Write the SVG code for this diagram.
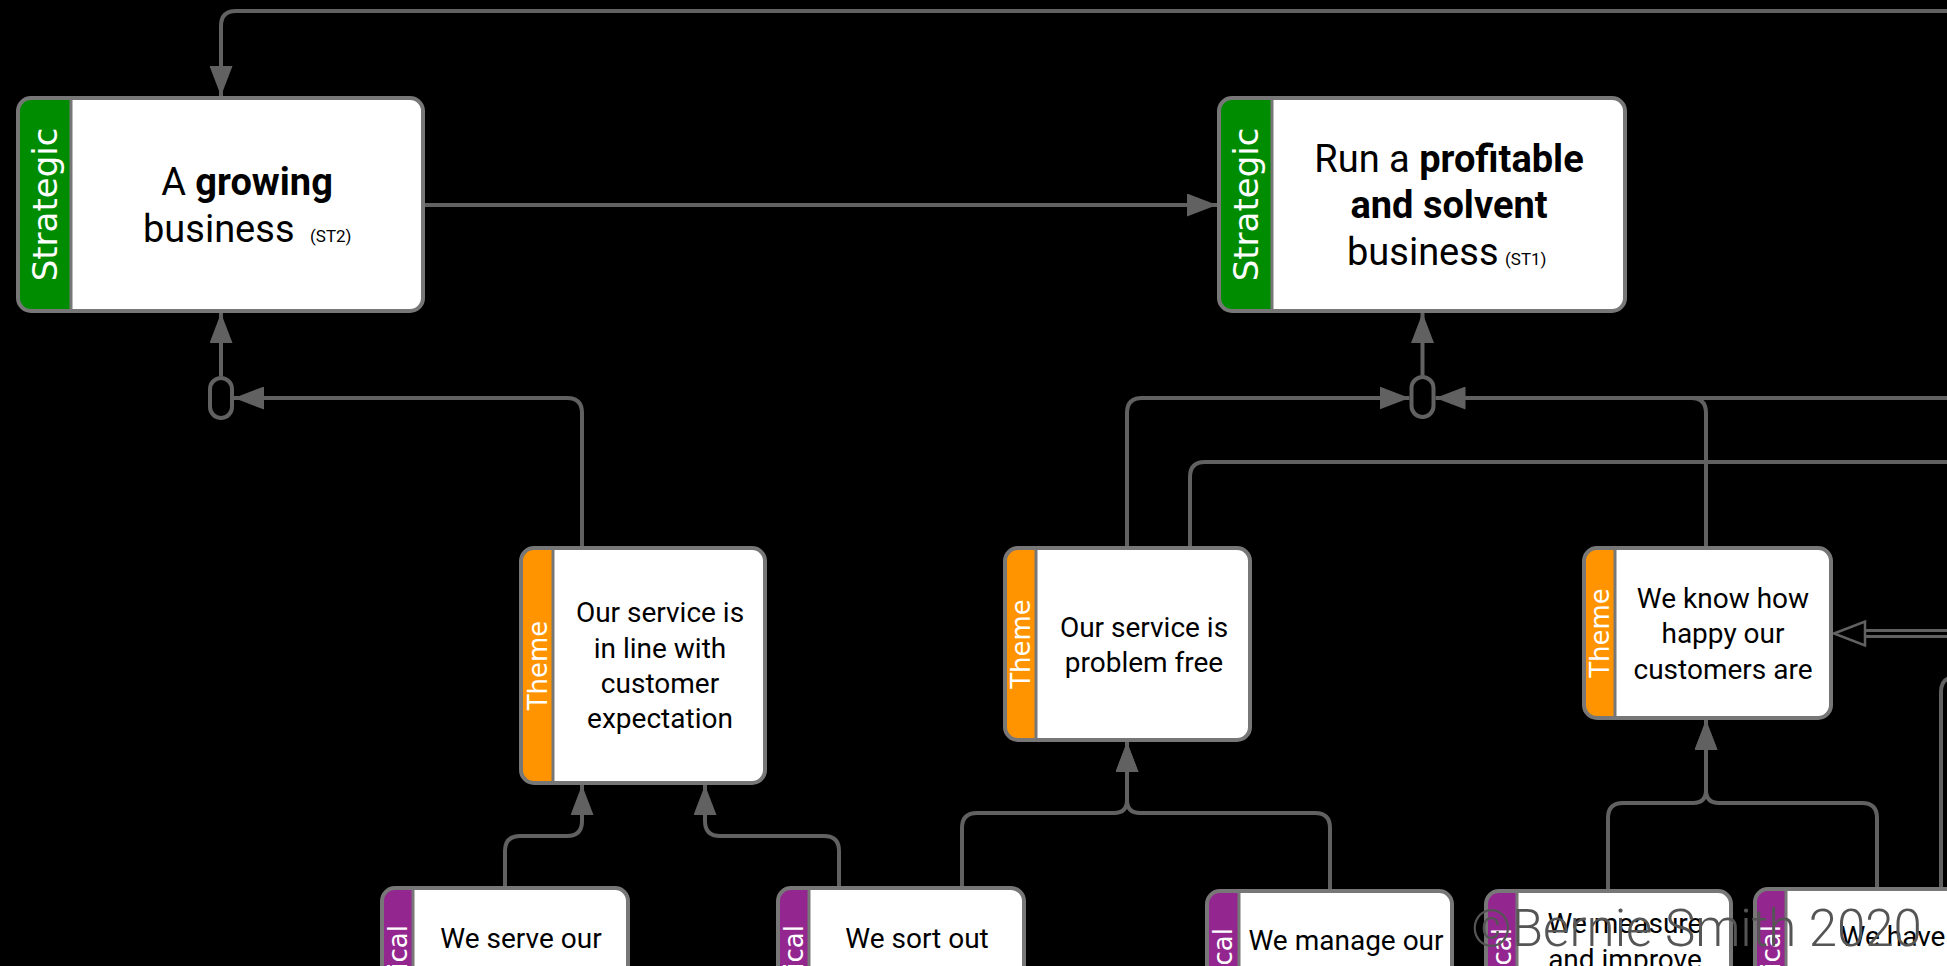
<svg xmlns="http://www.w3.org/2000/svg" width="1947" height="966" viewBox="0 0 1947 966">
  <style>
    .conn { fill: none; stroke: #616161; stroke-width: 4; }
    .arr { marker-end: url(#ah); }
    .bg { fill: #ffffff; }
    .frame { fill: none; stroke: #777777; stroke-width: 4; }
    .div { stroke: #777777; stroke-width: 3; }
    .st { fill: #008c00; }
    .th { fill: #ff9400; }
    .tc { fill: #93278f; }
    .lbl { font-family: 'DejaVu Sans', 'Liberation Sans', sans-serif; fill: #ffffff; }
    .big { font-family: Roboto, 'Liberation Sans', sans-serif; font-size: 38px; fill: #000; }
    .t { font-family: Roboto, 'Liberation Sans', sans-serif; font-size: 28px; fill: #000; text-anchor: middle; }
    .ref { font-family: Roboto, 'Liberation Sans', sans-serif; font-size: 17px; fill: #000; }
    .b { font-weight: 700; }
    .junction { fill: #000; stroke: #616161; stroke-width: 4; }
  </style>
  <defs>
    <marker id="ah" viewBox="0 0 30 23" refX="30" refY="11.5" markerWidth="30" markerHeight="23" markerUnits="userSpaceOnUse" orient="auto">
      <path d="M0,0 L30,11.5 L0,23 Z" fill="#616161"/>
    </marker>
  </defs>

  <rect x="0" y="0" width="1947" height="966" fill="#000"/>

  <!-- connectors -->
  <g id="connectors">
    <path class="conn arr" d="M1950,11 H236 Q221,11 221,26 V96"/>
    <path class="conn arr" d="M425,205 H1217"/>
    <path class="conn arr" d="M221,376 V313"/>
    <path class="conn arr" d="M582,546 V413 Q582,398 567,398 H234"/>
    <path class="conn arr" d="M1422.5,375 V313"/>
    <path class="conn arr" d="M1127,546 V413 Q1127,398 1142,398 H1409.5"/>
    <path class="conn arr" d="M1950,398 H1435.5"/>
    <path class="conn" d="M1706,546 V413 Q1706,398 1691,398 H1440"/>
    <path class="conn" d="M1190,546 V477 Q1190,462 1205,462 H1950"/>
    <path class="conn arr" d="M505,886 V851 Q505,836 520,836 H567 Q582,836 582,821 V785"/>
    <path class="conn arr" d="M839,886 V851 Q839,836 824,836 H720 Q705,836 705,821 V785"/>
    <path class="conn arr" d="M962,886 V828 Q962,813 977,813 H1114 Q1127,813 1127,800 V742"/>
    <path class="conn arr" d="M1330,889 V828 Q1330,813 1315,813 H1140 Q1127,813 1127,800 V742"/>
    <path class="conn arr" d="M1608,889 V818 Q1608,803 1623,803 H1693 Q1706,803 1706,790 V720"/>
    <path class="conn arr" d="M1877,887 V818 Q1877,803 1862,803 H1719 Q1706,803 1706,790 V720"/>
    <path class="conn" d="M1970,677 H1956 Q1941,677 1941,692 V887"/>
    <!-- hollow double-line arrow -->
    <path d="M1866,633.5 H1960" fill="none" stroke="#616161" stroke-width="9" stroke-linecap="round"/>
    <path d="M1866,633.5 H1960" fill="none" stroke="#000" stroke-width="3" stroke-linecap="round"/>
    <polygon points="1834,633.5 1865,621.5 1865,645.5" fill="#000" stroke="#616161" stroke-width="2.5"/>
    <!-- junctions -->
    <rect class="junction" x="210" y="378" width="22" height="40" rx="11"/>
    <rect class="junction" x="1411.5" y="377" width="22" height="40" rx="11"/>
  </g>

  <!-- strategic: growing business -->
  <g id="st2">
    <rect class="bg" x="18" y="98" width="405" height="213" rx="13"/>
    <path class="st" d="M71,98 V311 H31 Q18,311 18,298 V111 Q18,98 31,98 Z"/>
    <line class="div" x1="71" y1="98" x2="71" y2="311"/>
    <rect class="frame" x="18" y="98" width="405" height="213" rx="13"/>
    <text class="lbl" font-size="34" text-anchor="middle" transform="translate(57,204.5) rotate(-90)">Strategic</text>
    <text class="big" x="247" y="195" text-anchor="middle">A <tspan class="b">growing</tspan></text>
    <text class="big" x="143" y="242">business</text>
    <text class="ref" x="310" y="242">(ST2)</text>
  </g>

  <!-- strategic: profitable and solvent business -->
  <g id="st1">
    <rect class="bg" x="1219" y="98" width="406" height="213" rx="13"/>
    <path class="st" d="M1272,98 V311 H1232 Q1219,311 1219,298 V111 Q1219,98 1232,98 Z"/>
    <line class="div" x1="1272" y1="98" x2="1272" y2="311"/>
    <rect class="frame" x="1219" y="98" width="406" height="213" rx="13"/>
    <text class="lbl" font-size="34" text-anchor="middle" transform="translate(1258,204.5) rotate(-90)">Strategic</text>
    <text class="big" x="1449" y="172" text-anchor="middle">Run a <tspan class="b">profitable</tspan></text>
    <text class="big b" x="1449" y="218" text-anchor="middle">and solvent</text>
    <text class="big" x="1347" y="265">business</text>
    <text class="ref" x="1505" y="265">(ST1)</text>
  </g>

  <!-- theme: customer expectation -->
  <g id="theme1">
    <rect class="bg" x="521" y="548" width="244" height="235" rx="13"/>
    <path class="th" d="M553,548 V783 H534 Q521,783 521,770 V561 Q521,548 534,548 Z"/>
    <line class="div" x1="553" y1="548" x2="553" y2="783"/>
    <rect class="frame" x="521" y="548" width="244" height="235" rx="13"/>
    <text class="lbl" font-size="26" text-anchor="middle" transform="translate(546.5,665.5) rotate(-90)">Theme</text>
    <text class="t" x="660" y="622">Our service is</text>
    <text class="t" x="660" y="658">in line with</text>
    <text class="t" x="660" y="693">customer</text>
    <text class="t" x="660" y="728">expectation</text>
  </g>

  <!-- theme: problem free -->
  <g id="theme2">
    <rect class="bg" x="1005" y="548" width="245" height="192" rx="13"/>
    <path class="th" d="M1036,548 V740 H1018 Q1005,740 1005,727 V561 Q1005,548 1018,548 Z"/>
    <line class="div" x1="1036" y1="548" x2="1036" y2="740"/>
    <rect class="frame" x="1005" y="548" width="245" height="192" rx="13"/>
    <text class="lbl" font-size="26" text-anchor="middle" transform="translate(1030,644) rotate(-90)">Theme</text>
    <text class="t" x="1144" y="637">Our service is</text>
    <text class="t" x="1144" y="672">problem free</text>
  </g>

  <!-- theme: customer happiness -->
  <g id="theme3">
    <rect class="bg" x="1584" y="548" width="247" height="170" rx="13"/>
    <path class="th" d="M1615,548 V718 H1597 Q1584,718 1584,705 V561 Q1584,548 1597,548 Z"/>
    <line class="div" x1="1615" y1="548" x2="1615" y2="718"/>
    <rect class="frame" x="1584" y="548" width="247" height="170" rx="13"/>
    <text class="lbl" font-size="26" text-anchor="middle" transform="translate(1609,633) rotate(-90)">Theme</text>
    <text class="t" x="1723" y="608">We know how</text>
    <text class="t" x="1723" y="643">happy our</text>
    <text class="t" x="1723" y="679">customers are</text>
  </g>

  <!-- lower level nodes -->
  <g id="serve">
    <rect class="bg" x="382" y="888" width="246" height="200" rx="13"/>
    <path class="tc" d="M413,888 V1088 H382 V901 Q382,888 395,888 Z"/>
    <line class="div" x1="413" y1="888" x2="413" y2="1088"/>
    <rect class="frame" x="382" y="888" width="246" height="200" rx="13"/>
    <text class="lbl" font-size="26" text-anchor="end" transform="translate(407,925) rotate(-90)">ical</text>
    <text class="t" x="521" y="948">We serve our</text>
  </g>

  <g id="sort">
    <rect class="bg" x="778" y="888" width="246" height="200" rx="13"/>
    <path class="tc" d="M809,888 V1088 H778 V901 Q778,888 791,888 Z"/>
    <line class="div" x1="809" y1="888" x2="809" y2="1088"/>
    <rect class="frame" x="778" y="888" width="246" height="200" rx="13"/>
    <text class="lbl" font-size="26" text-anchor="end" transform="translate(803,925) rotate(-90)">ical</text>
    <text class="t" x="917" y="948">We sort out</text>
  </g>

  <g id="manage">
    <rect class="bg" x="1207" y="891" width="245" height="200" rx="13"/>
    <path class="tc" d="M1239,891 V1091 H1207 V904 Q1207,891 1220,891 Z"/>
    <line class="div" x1="1239" y1="891" x2="1239" y2="1091"/>
    <rect class="frame" x="1207" y="891" width="245" height="200" rx="13"/>
    <text class="lbl" font-size="26" text-anchor="end" transform="translate(1232,928) rotate(-90)">cal</text>
    <text class="t" x="1346" y="950">We manage our</text>
  </g>

  <g id="measure">
    <rect class="bg" x="1486" y="891" width="245" height="200" rx="13"/>
    <path class="tc" d="M1517,891 V1091 H1486 V904 Q1486,891 1499,891 Z"/>
    <line class="div" x1="1517" y1="891" x2="1517" y2="1091"/>
    <rect class="frame" x="1486" y="891" width="245" height="200" rx="13"/>
    <text class="lbl" font-size="26" text-anchor="end" transform="translate(1511,928) rotate(-90)">cal</text>
    <text class="t" x="1625" y="933">We measure</text>
    <text class="t" x="1625" y="969">and improve</text>
  </g>

  <g id="have">
    <rect class="bg" x="1755" y="889" width="246" height="200" rx="13"/>
    <path class="tc" d="M1786,889 V1089 H1755 V902 Q1755,889 1768,889 Z"/>
    <line class="div" x1="1786" y1="889" x2="1786" y2="1089"/>
    <rect class="frame" x="1755" y="889" width="246" height="200" rx="13"/>
    <text class="lbl" font-size="26" text-anchor="end" transform="translate(1780,925) rotate(-90)">ical</text>
    <text class="t" x="1893" y="946">We have</text>
  </g>

  <!-- copyright mark -->
  <text x="1471" y="946" font-family="Roboto, 'Liberation Sans', sans-serif" font-weight="300" font-size="51" fill="#555555">©Bernie Smith 2020</text>
</svg>
